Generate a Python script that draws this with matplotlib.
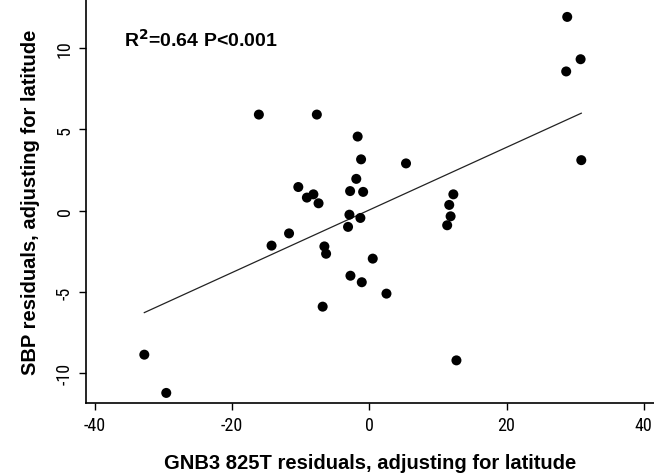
# GNB3 825T と SBP の残差の散布図を再現する
import numpy as np
import matplotlib
matplotlib.use("Agg")
import matplotlib.pyplot as plt
from matplotlib import font_manager

# データ
gnb3_resid = [-32.8, -29.6, -16.1, -14.25, -11.7, -10.35, -9.1, -8.15, -7.65, -7.4,
              -6.8, -6.55, -6.3, -3.1, -2.9, -2.8, -2.75, -1.9, -1.7, -1.3,
              -1.2, -1.1, -0.9, 0.5, 2.5, 5.35, 11.35, 11.65, 11.85, 12.25,
              12.7, 28.7, 28.85, 30.8, 30.9]
sbp_resid = [-8.85, -11.2, 5.9, -2.15, -1.4, 1.45, 0.8, 1.0, 5.9, 0.45,
             -5.9, -2.2, -2.65, -1.0, -0.25, 1.2, -4.0, 1.95, 4.55, -0.45,
             3.15, -4.4, 1.15, -2.95, -5.1, 2.9, -0.9, 0.35, -0.35, 1.0,
             -9.2, 8.55, 11.9, 9.3, 3.1]
xticks = [-40, -20, 0, 20, 40]
yticks = [-10, -5, 0, 5, 10]
annot = r"R$^{\mathbf{2}}$=0.64 P<0.001"

plt.rcParams["axes.unicode_minus"] = False

# 細めのフォントを探す
names = {f.name for f in font_manager.fontManager.ttflist}
narrow = "Liberation Sans"
for cand in ["Liberation Sans Narrow", "DejaVu Sans Condensed", "Roboto Condensed"]:
    if cand in names:
        narrow = cand
        break

x = np.array(gnb3_resid)
y = np.array(sbp_resid)

fig = plt.figure(figsize=(6.54, 4.77), dpi=100)
ax = fig.add_axes([0.1315, 0.153, 0.8685, 0.847])

ax.scatter(x, y, s=52, c="black", edgecolors="none", zorder=3)

# 回帰直線
b, a = np.polyfit(x, y, 1)
xx = np.array([x.min(), x.max()])
ax.plot(xx, a + b * xx, color="#222222", lw=0.9, zorder=2)

ax.set_xlim(-41.3, 41.5)
ax.set_ylim(-11.82, 13.0)
ax.set_xticks(xticks)
ax.set_yticks(yticks)

for s in ["top", "right"]:
    ax.spines[s].set_visible(False)
for s in ["left", "bottom"]:
    ax.spines[s].set_linewidth(1.2)

ax.tick_params(axis="x", direction="out", length=5, width=1, pad=4, labelsize=13)
ax.tick_params(axis="y", direction="out", length=5, width=1, pad=4, labelsize=13)
for lab in ax.get_xticklabels():
    lab.set_family(narrow)
for lab in ax.get_yticklabels():
    lab.set_family(narrow)
    lab.set_rotation(90)
    lab.set_va("center")

ax.set_xlabel("GNB3 825T residuals, adjusting for latitude", fontsize=14.5,
              fontweight="bold", family="Liberation Sans", labelpad=14)
ax.set_ylabel("SBP residuals, adjusting for latitude", fontsize=14.5,
              fontweight="bold", family="Liberation Sans", labelpad=11)

ax.text(-35.7, 10.1, annot, fontsize=14, fontweight="bold",
        family="Liberation Sans", va="baseline", ha="left")

fig.savefig("out.png", dpi=100)
